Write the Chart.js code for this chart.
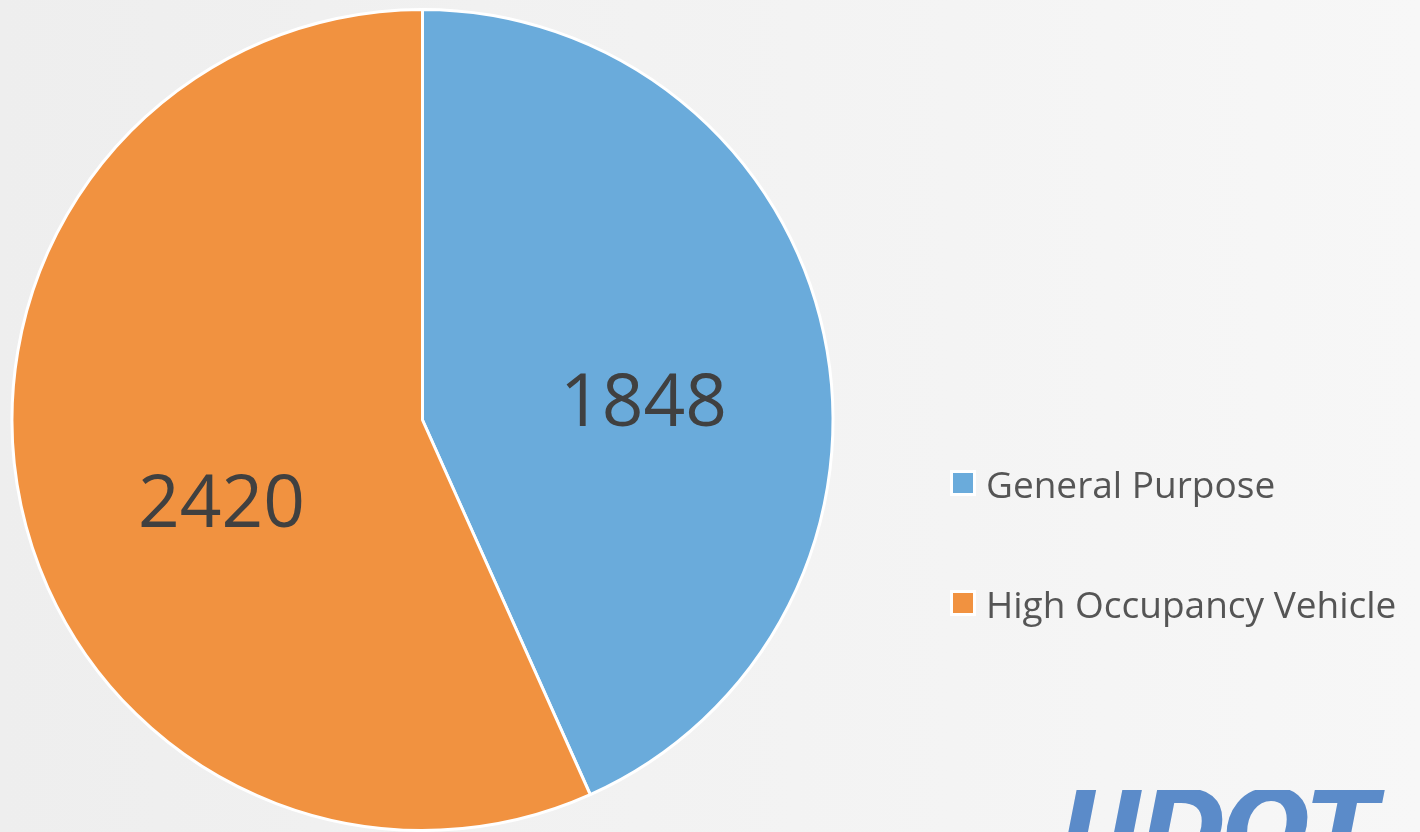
<!DOCTYPE html>
<html>
<head>
<meta charset="utf-8">
<script src="https://cdn.jsdelivr.net/npm/chart.js@4"></script>
<style>
  html, body { margin: 0; padding: 0; width: 1420px; height: 832px; overflow: hidden; }
  body { background: linear-gradient(90deg, #eeeeee 0%, #f2f2f2 45%, #f7f7f7 100%); position: relative; }
  #c { position: absolute; left: 0; top: 0; }
  #logo { position: absolute; left: 1040px; top: 790px; width: 380px; height: 42px; overflow: hidden; }
  #logo span { position: absolute; left: 20px; top: -14px; font: italic 900 104px "DejaVu Sans", sans-serif; color: #5b8bc9; letter-spacing: -4px; line-height: 1; }
</style>
</head>
<body>
<canvas id="c" width="1420" height="832"></canvas>
<div id="logo"><span>UDOT</span></div>
<script>
const categories = ["General Purpose", "High Occupancy Vehicle"];
const values = [1848, 2420];
const colors = ["#6aabdb", "#f19240"];

const labelPlugin = {
  id: 'sliceLabels',
  afterDatasetsDraw(chart) {
    const ctx = chart.ctx;
    const meta = chart.getDatasetMeta(0);
    const shifts = [7.4, -10.3];
    ctx.save();
    ctx.font = '73px "Open Sans", sans-serif';
    ctx.fillStyle = '#404040';
    ctx.textAlign = 'center';
    ctx.textBaseline = 'middle';
    meta.data.forEach((arc, i) => {
      const p = arc.getProps(['x', 'y', 'startAngle', 'endAngle', 'outerRadius'], true);
      const a = (p.startAngle + p.endAngle) / 2 + shifts[i] * Math.PI / 180;
      const r = p.outerRadius * 0.535;
      ctx.fillText(String(values[i]), p.x + Math.cos(a) * r + 2, p.y + Math.sin(a) * r + 3);
    });
    ctx.restore();
  }
};

const legendPlugin = {
  id: 'sideLegend',
  afterDraw(chart) {
    const ctx = chart.ctx;
    ctx.save();
    ctx.font = '37px "Open Sans", sans-serif';
    ctx.textBaseline = 'middle';
    categories.forEach((name, i) => {
      const cy = 483 + i * 120;
      ctx.fillStyle = '#ffffff';
      ctx.fillRect(950, cy - 13, 26, 26);
      ctx.fillStyle = colors[i];
      ctx.fillRect(953, cy - 10, 20, 20);
      ctx.fillStyle = '#555555';
      ctx.fillText(name, 986, cy + 4);
    });
    ctx.restore();
  }
};

new Chart(document.getElementById('c'), {
  type: 'pie',
  data: {
    labels: categories,
    datasets: [{
      data: values,
      backgroundColor: colors,
      borderColor: '#ffffff',
      borderWidth: 3
    }]
  },
  options: {
    responsive: false,
    animation: false,
    layout: { padding: { left: 10, top: 8, right: 585, bottom: 0 } },
    plugins: { legend: { display: false }, tooltip: { enabled: false } }
  },
  plugins: [labelPlugin, legendPlugin]
});
</script>
</body>
</html>
